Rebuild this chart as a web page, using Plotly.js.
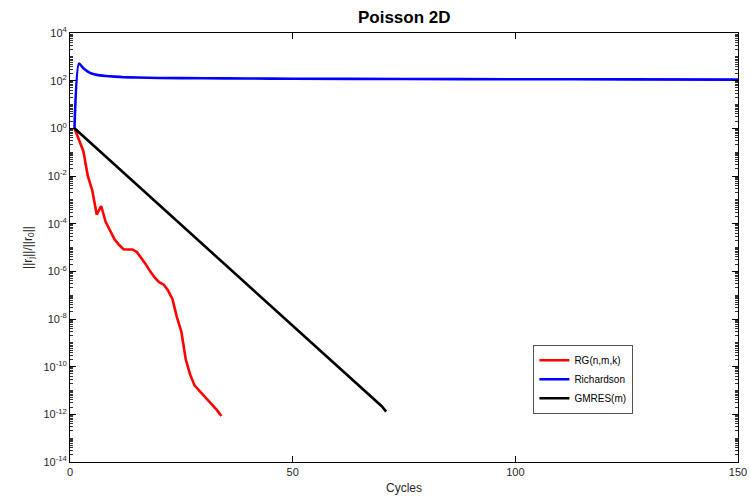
<!DOCTYPE html>
<html>
<head>
<meta charset="utf-8">
<script src="https://cdn.plot.ly/plotly-3.0.1.min.js"></script>
<style>html,body{margin:0;padding:0;background:#fff;}#chart{width:750px;height:499px;}</style>
</head>
<body>
<div id="chart"></div>
<script>
// RG(n,m,k)
const rgCycles = [1, 2, 3, 4, 5, 6, 7, 8, 9, 10, 11, 12, 13, 14, 15, 16, 17, 18, 19, 20, 21, 22, 23, 24, 25, 26, 27, 28, 29, 30, 31, 32, 33, 34];
const rgValues = [1, 3.0e-1, 1.1e-1, 1.0e-2, 2.5e-3, 2.4e-4, 5.5e-4, 1.2e-4, 5.0e-5, 2.2e-5, 1.3e-5, 8.5e-6, 8.3e-6, 8.3e-6, 6.5e-6, 3.8e-6, 2.0e-6, 1.0e-6, 5.5e-7, 3.5e-7, 2.8e-7, 1.6e-7, 7.0e-8, 1.2e-8, 3.0e-9, 2.0e-10, 4.5e-11, 1.6e-11, 1.0e-11, 6.5e-12, 4.0e-12, 2.5e-12, 1.5e-12, 8.5e-13];
// Richardson
const richCycles = [1, 2, 3, 4, 5, 6, 8, 10, 12, 15, 20, 30, 40, 50, 75, 100, 125, 150];
const richValues = [1, 520, 330, 240, 195, 175, 158, 148, 140, 135, 130, 126, 123, 121, 118, 115, 113, 111];
// GMRES(m)
const gmresCycles = [1, 10, 20, 30, 40, 50, 60, 70, 71];
const gmresValues = [1, 3.0e-2, 6.3e-4, 1.3e-5, 2.6e-7, 5.4e-9, 1.1e-10, 2.2e-12, 1.3e-12];

const yTickVals = [1e4, 1e2, 1e0, 1e-2, 1e-4, 1e-6, 1e-8, 1e-10, 1e-12, 1e-14];
const yTickText = ['10<sup>4</sup>', '10<sup>2</sup>', '10<sup>0</sup>', '10<sup>-2</sup>', '10<sup>-4</sup>', '10<sup>-6</sup>', '10<sup>-8</sup>', '10<sup>-10</sup>', '10<sup>-12</sup>', '10<sup>-14</sup>'];
const xTickVals = [0, 50, 100, 150];

// minor tick positions for the log axis (2..9 times each power of ten, plus odd decades)
const minorTickVals = [];
for (let e = -14; e < 4; e++) {
  for (let m = 1; m <= 9; m++) {
    if (m === 1 && e % 2 === 0) continue;
    minorTickVals.push(m * Math.pow(10, e));
  }
}

const traces = [
  {x: rgCycles, y: rgValues, name: 'RG(n,m,k)', mode: 'lines', line: {color: '#ff0000', width: 2.6}},
  {x: richCycles, y: richValues, name: 'Richardson', mode: 'lines', line: {color: '#0000ff', width: 2.6, shape: 'spline', smoothing: 0.6}},
  {x: gmresCycles, y: gmresValues, name: 'GMRES(m)', mode: 'lines', line: {color: '#000000', width: 2.6}}
];

const layout = {
  width: 750, height: 499,
  margin: {l: 70, r: 12, t: 33, b: 37},
  paper_bgcolor: '#fff', plot_bgcolor: 'rgba(0,0,0,0)',
  font: {family: 'Liberation Sans, Arial, sans-serif', color: '#262626', size: 11},
  showlegend: true,
  title: {text: '<b>Poisson 2D</b>', x: 0.539, xanchor: 'center', y: 0.965, yanchor: 'middle', font: {size: 17, color: '#000'}},
  xaxis: {
    range: [0, 150], tickmode: 'array', tickvals: xTickVals, ticks: 'inside', ticklen: 6, tickwidth: 1, tickcolor: '#000',
    showline: true, linecolor: '#000', linewidth: 1, mirror: 'allticks', showgrid: false, zeroline: false, layer: 'above traces',
    tickfont: {size: 11, color: '#262626'},
    title: {text: 'Cycles', font: {size: 12, color: '#262626'}, standoff: 6}
  },
  yaxis: {
    type: 'log', range: [-14, 4], tickmode: 'array', tickvals: yTickVals, ticktext: yTickText, ticks: 'inside', ticklen: 6, tickwidth: 1, tickcolor: '#000',
    showline: true, linecolor: '#000', linewidth: 1, mirror: 'allticks', showgrid: false, zeroline: false, layer: 'above traces',
    tickfont: {size: 11, color: '#262626'},
    minor: {tickmode: 'array', tickvals: minorTickVals, ticks: 'inside', ticklen: 3, tickwidth: 1, tickcolor: '#333', showgrid: false},
    title: {text: '||r<sub>j</sub>||/||r<sub>0</sub>||', font: {size: 12, color: '#262626'}, standoff: 8}
  },
  legend: {
    x: 0.694, y: 0.273, xanchor: 'left', yanchor: 'top',
    bgcolor: '#fff', bordercolor: '#262626', borderwidth: 0.8,
    font: {size: 10, color: '#000'}, itemwidth: 30, tracegroupgap: 0
  }
};

Plotly.newPlot('chart', traces, layout, {displayModeBar: false});
</script>
</body>
</html>
